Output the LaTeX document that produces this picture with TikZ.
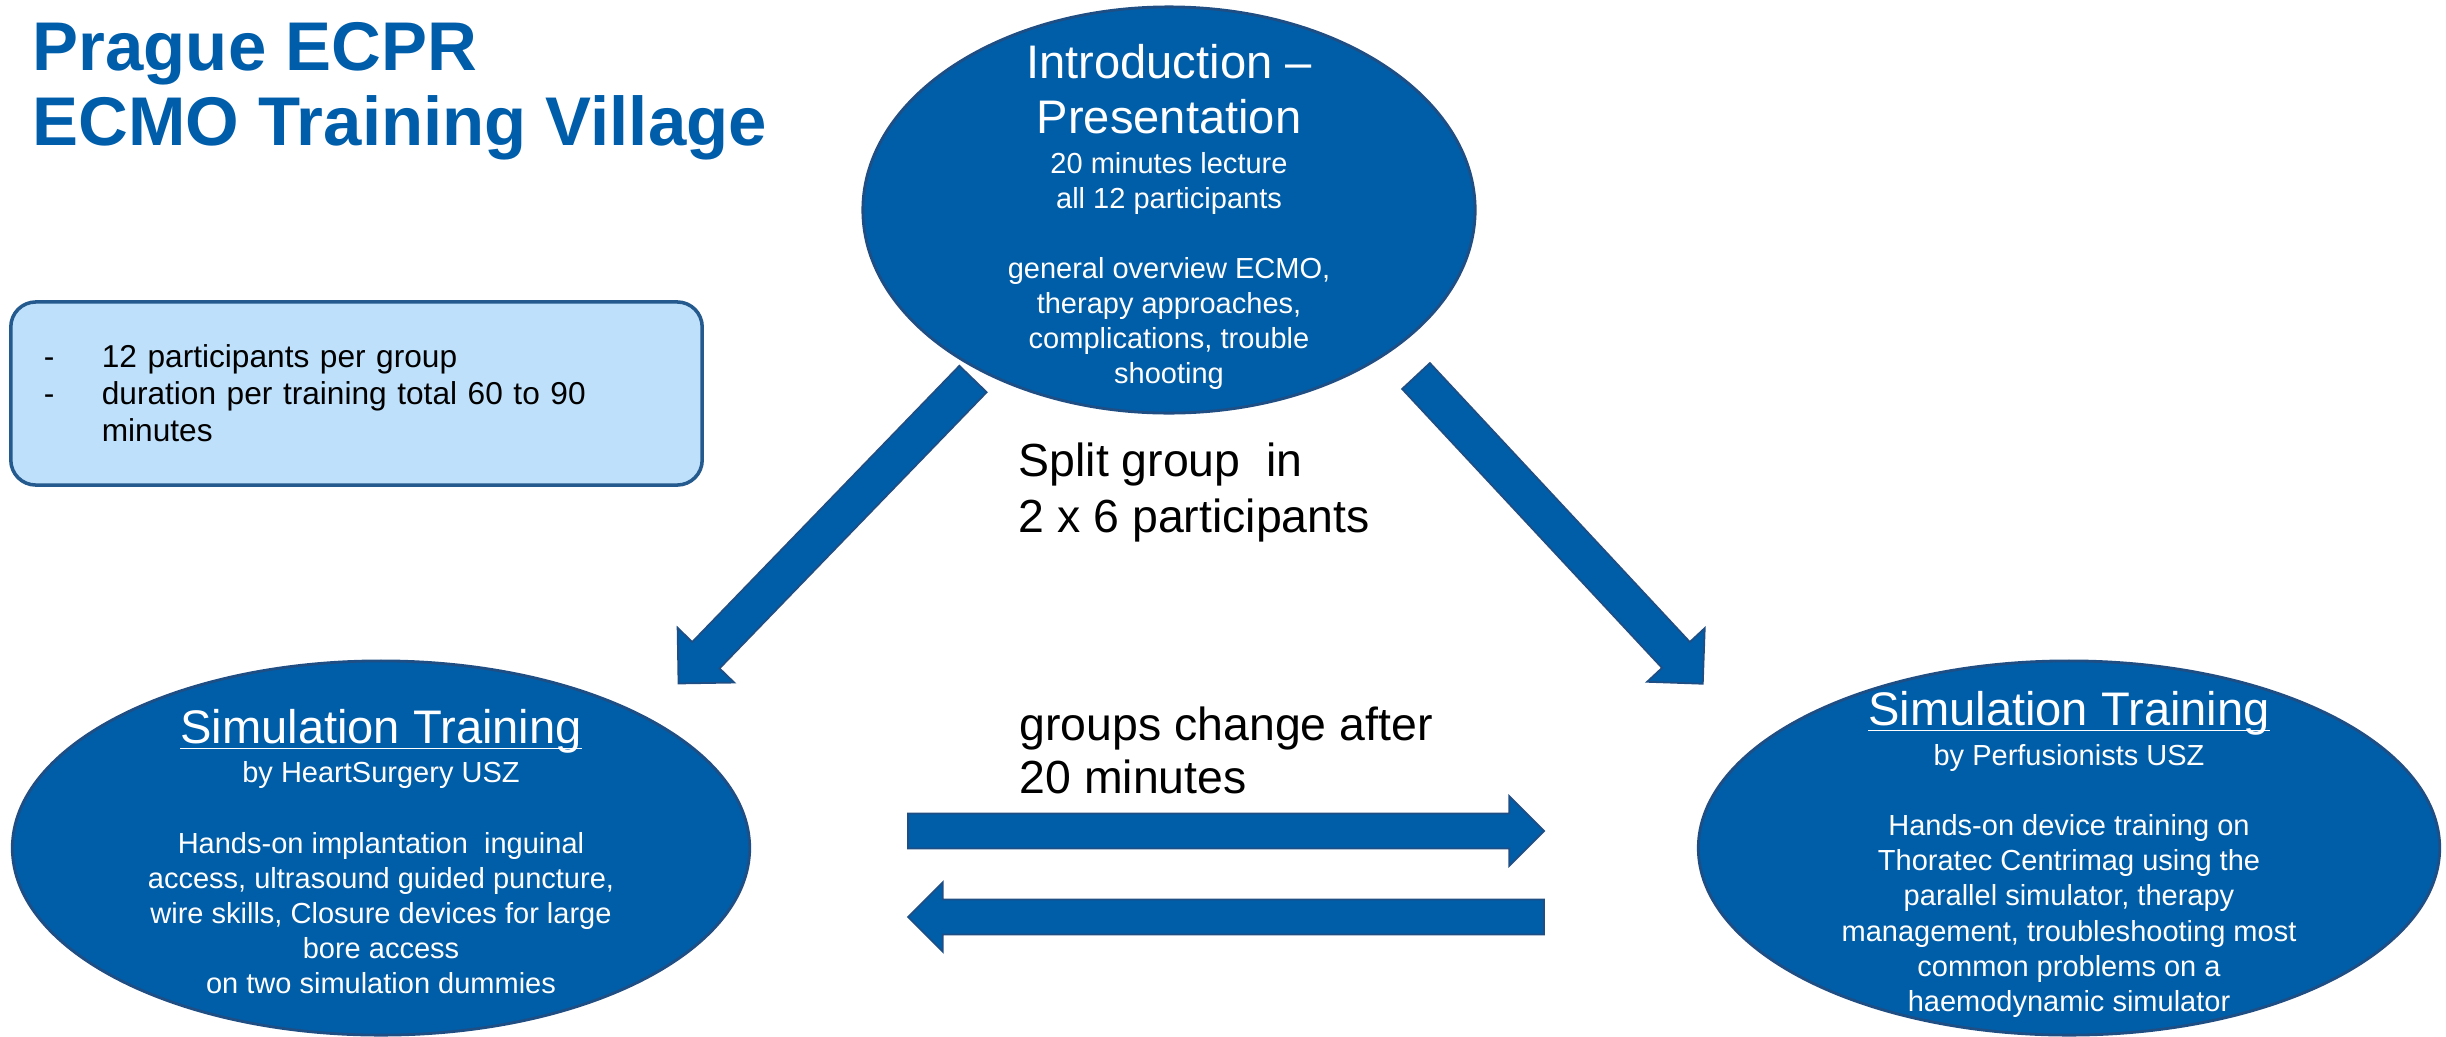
\documentclass[tikz,border=0pt]{standalone}
\usepackage{fontspec}
\setmainfont{Liberation Sans}
\usetikzlibrary{shapes.geometric}
\usetikzlibrary{calc}

\definecolor{ecmoblue}{HTML}{005DA8}
\definecolor{ecmoedge}{HTML}{1E4E84}
\definecolor{titleblue}{HTML}{005DAA}
\definecolor{infofill}{HTML}{BEE0FA}
\definecolor{infoedge}{HTML}{245A8E}

\newcommand{\blockarrow}[4]{%
  \filldraw[arrowbody] let \p1=($(#2)-(#1)$), \n1={atan2(\y1,\x1)}, \n2={veclen(\x1,\y1)} in
    [shift={(#1)}, rotate=\n1] (0pt,-#3) -- ({\n2-#4},-#3) -- ({\n2-#4},-#4) -- ({\n2*1pt},0pt)
    -- ({\n2-#4},#4) -- ({\n2-#4},#3) -- (0pt,#3) -- cycle;}

\begin{document}
\begin{tikzpicture}[x=0.01cm, y=-0.01cm,
    bubble/.style={ellipse, draw=ecmoedge, fill=ecmoblue, line width=0.8pt, inner sep=0pt},
    bubblehead/.style={anchor=north, text=white, align=center, inner sep=0pt, font=\fontsize{13.4}{15.6}\selectfont},
    bubblebody/.style={anchor=north, text=white, align=center, inner sep=0pt, font=\fontsize{8.25}{9.96}\selectfont},
    infobox/.style={rectangle, rounded corners=0.25cm, draw=infoedge, fill=infofill, line width=1pt,
      minimum width=6.91cm, minimum height=1.83cm, text width=6.25cm, inner xsep=0.33cm, inner ysep=0pt,
      align=left, font=\fontsize{9}{10.5}\selectfont},
    arrowbody/.style={fill=ecmoblue, draw=ecmoedge, line width=0.5pt},
    bigtext/.style={anchor=north west, inner sep=0pt, align=left}]
  \useasboundingbox (0,0) rectangle (2446,1036);

  \node[bigtext, text=titleblue, font=\fontsize{19.6}{21.3}\selectfont\bfseries] (title) at (32,22)
    {Prague ECPR\\ECMO Training Village};

  \node[infobox] (info) at (356.5,393.5)
    {\makebox[0.58cm][l]{-}12 participants per group\\
     \makebox[0.58cm][l]{-}duration per training total 60 to 90\\
     \hspace*{0.58cm}minutes};

  \node[bubble, minimum width=6.12cm, minimum height=4.06cm] (intro) at (1169,210) {};
  \node[bubble, minimum width=7.37cm, minimum height=3.74cm] (heart) at (381,848) {};
  \node[bubble, minimum width=7.41cm, minimum height=3.74cm] (perf) at (2069,848) {};

  \node[bubblehead] (introhead) at (1169,44) {Introduction --\\Presentation};
  \node[bubblebody] (introbody) at (1169,152)
    {20 minutes lecture\\all 12 participants\\[9.96pt]
     general overview ECMO,\\therapy approaches,\\complications, trouble\\shooting};

  \node[bubblehead] (hearthead) at (381,709) {\underbar{Simulation Training}};
  \node[bubblebody] (heartbody) at (381,761)
    {by HeartSurgery USZ\\[10.2pt]
     Hands-on implantation\ \ inguinal\\access, ultrasound guided puncture,\\
     wire skills, Closure devices for large\\bore access\\on two simulation dummies};

  \node[bubblehead] (perfhead) at (2069,691) {\underbar{Simulation Training}};
  \node[bubblebody] (perfbody) at (2069,744)
    {by Perfusionists USZ\\[10pt]
     Hands-on device training on\\Thoratec Centrimag using the\\parallel simulator, therapy\\
     management, troubleshooting most\\common problems on a\\haemodynamic simulator};

  \node[bigtext, font=\fontsize{13.2}{16}\selectfont] (split) at (1018,442)
    {Split group\ \ in\\2 x 6 participants};
  \node[bigtext, font=\fontsize{13.2}{15}\selectfont] (change) at (1019,706)
    {groups change after\\20 minutes};

  \coordinate (splitL) at (973,379);
  \coordinate (splitLEnd) at (678,684);
  \coordinate (splitR) at (1416,376);
  \coordinate (splitREnd) at (1703,684);
  \coordinate (swapA) at (908,831);
  \coordinate (swapAEnd) at (1544,831);
  \coordinate (swapB) at (1544,917);
  \coordinate (swapBEnd) at (908,917);

  \blockarrow{splitL}{splitLEnd}{5.4pt}{11.2pt}
  \blockarrow{splitR}{splitREnd}{5.4pt}{11.2pt}
  \blockarrow{swapA}{swapAEnd}{5pt}{9.9pt}
  \blockarrow{swapB}{swapBEnd}{5pt}{9.9pt}
\end{tikzpicture}
\end{document}
